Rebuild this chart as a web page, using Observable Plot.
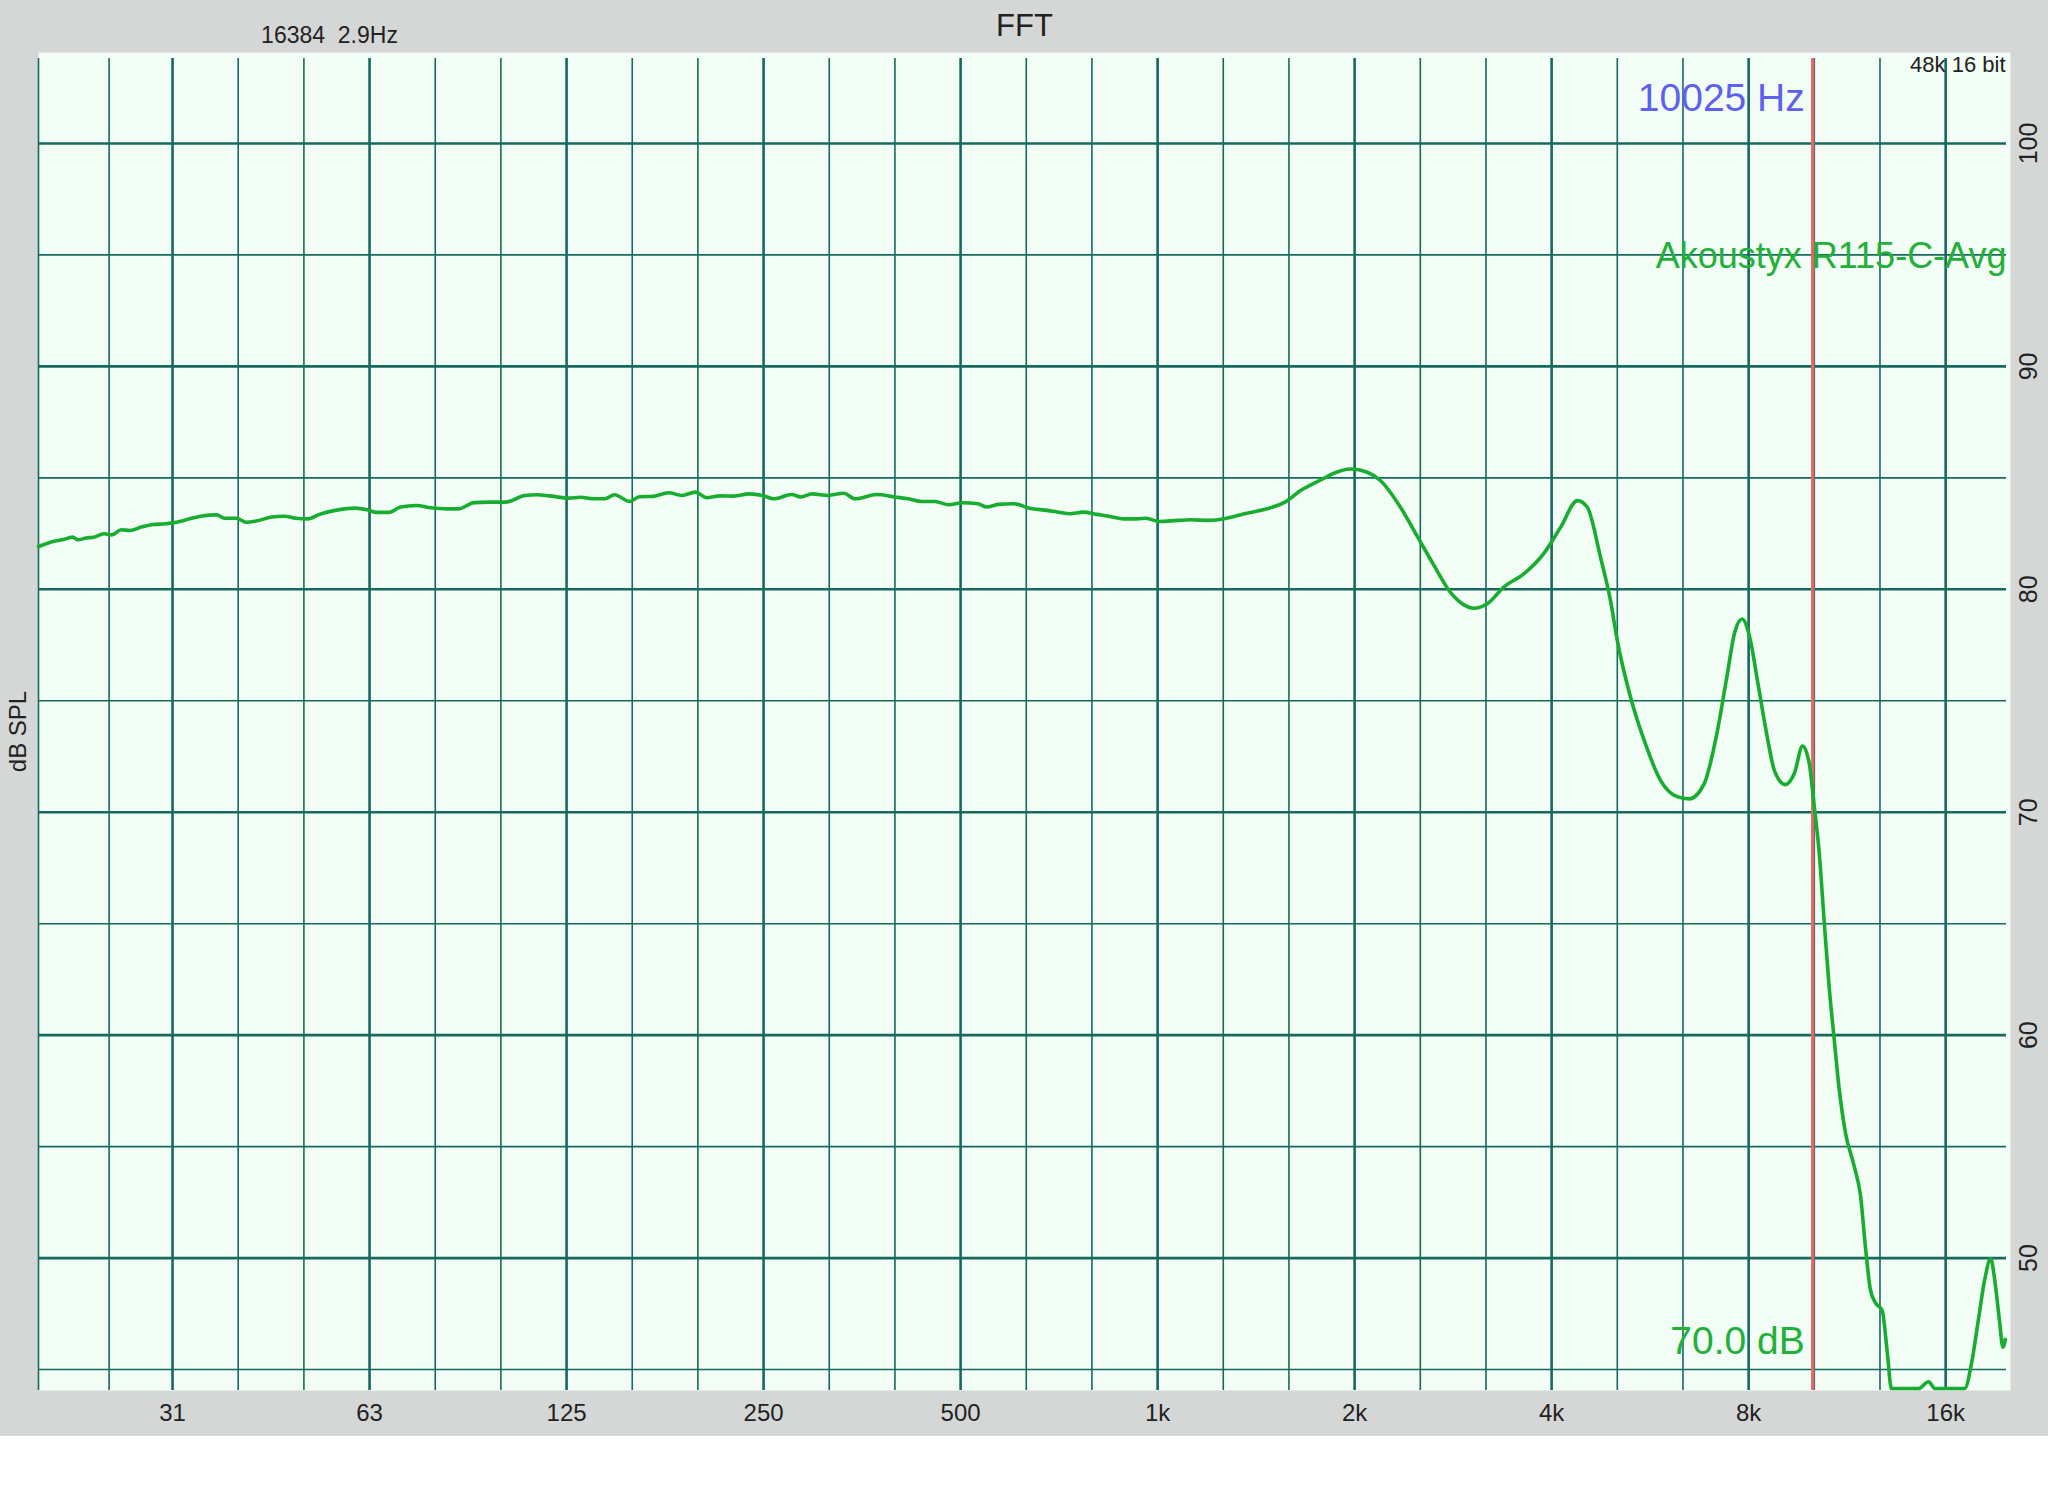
<!DOCTYPE html>
<html>
<head>
<meta charset="utf-8">
<script src="https://cdn.jsdelivr.net/npm/d3@7"></script>
<script src="https://cdn.jsdelivr.net/npm/@observablehq/plot@0.6"></script>
<style>
  html, body { margin: 0; padding: 0; background: #ffffff; }
  #chart svg { display: block; }
</style>
</head>
<body>
<div id="chart"></div>
<script>
// ---- data ----
const freqHz = [
  19.5, 20.6, 21.2, 22.0, 22.4, 23.05, 23.7, 24.55, 25.24, 26.1,
  26.9, 28.0, 29.2, 30.5, 31.7, 33.1, 34.5, 36.5, 37.5, 39.1,
  40.5, 41.9, 44.3, 46.3, 48.2, 50.3, 52.4, 55.4, 59.4, 62.0,
  64.1, 66.9, 69.7, 73.7, 77.5, 81.9, 85.4, 90.3, 95.4, 100.8,
  108, 112.7, 117.6, 126, 131.4, 137, 143, 148, 156, 161.5,
  169.6, 179, 187.7, 196.6, 204.6, 214.5, 225, 237.7, 249, 259,
  276, 285, 296.7, 313.6, 331.5, 344.7, 372.5, 396.8, 416, 436,
  457, 479.5, 502.8, 531.4, 548, 570.5, 602.7, 637, 678, 705.6,
  734, 769.5, 807, 846, 887, 930, 960, 1006, 1072, 1124,
  1197, 1275, 1358, 1469, 1565, 1654, 1793, 1857, 1972, 2091,
  2190, 2350, 2490, 2644, 2800, 2938, 3040, 3190, 3380, 3630,
  3890, 4130, 4380, 4535, 4750, 4920, 5040, 5280, 5540, 5870,
  6220, 6490, 6840, 7140, 7400, 7620, 7820, 8030, 8270, 8510,
  8760, 9100, 9400, 9670, 9900, 10070, 10250, 10430, 10620, 10810,
  10990, 11250, 11580, 11860, 12070, 12280, 12500, 12800, 13030, 13220,
  14540, 15060, 15420, 17110, 17530, 17940, 18360, 18750, 19010, 19340,
  19570, 19740
];
const splDb = [
  81.92, 82.16, 82.22, 82.34, 82.22, 82.30, 82.34, 82.49, 82.44, 82.67,
  82.64, 82.79, 82.91, 82.94, 83.01, 83.15, 83.28, 83.34, 83.19, 83.19,
  83.01, 83.06, 83.24, 83.28, 83.19, 83.16, 83.36, 83.54, 83.64, 83.57,
  83.45, 83.45, 83.69, 83.76, 83.66, 83.61, 83.61, 83.89, 83.91, 83.91,
  84.21, 84.24, 84.19, 84.09, 84.13, 84.06, 84.06, 84.24, 83.94, 84.15,
  84.17, 84.33, 84.21, 84.36, 84.11, 84.19, 84.18, 84.28, 84.21, 84.06,
  84.25, 84.14, 84.28, 84.21, 84.31, 84.06, 84.25, 84.14, 84.06, 83.94,
  83.94, 83.79, 83.88, 83.84, 83.69, 83.81, 83.84, 83.64, 83.54, 83.46,
  83.39, 83.46, 83.36, 83.27, 83.16, 83.16, 83.19, 83.04, 83.09, 83.12,
  83.09, 83.19, 83.39, 83.61, 83.91, 84.43, 84.97, 85.20, 85.40, 85.25,
  84.88, 83.68, 82.41, 81.07, 79.87, 79.30, 79.15, 79.35, 80.10, 80.70,
  81.60, 82.79, 83.98, 83.68, 81.44, 79.50, 77.70, 75.16, 73.22, 71.42,
  70.70, 70.60, 71.27, 73.40, 75.97, 78.08, 78.67, 77.85, 75.74, 73.63,
  71.87, 71.24, 71.76, 72.97, 72.20, 70.35, 68.24, 65.20, 62.15, 59.81,
  57.70, 55.60, 54.19, 52.79, 50.45, 48.57, 47.99, 47.64, 45.76, 44.15,
  44.15, 44.45, 44.15, 44.15, 45.30, 47.17, 49.04, 49.98, 49.04, 47.17,
  46.00, 46.35
];

// axes / grid
const xDomain = [19.5, 20100];
const yDomain = [44.06, 104.08];
const octaveLines = [31.25, 62.5, 125, 250, 500, 1000, 2000, 4000, 8000, 16000];
const xTickLabels = ["31", "63", "125", "250", "500", "1k", "2k", "4k", "8k", "16k"];
const thirdOctaveLines = [25, 39.37, 49.61, 78.75, 99.21, 157.49, 198.43, 314.98, 396.85,
  629.96, 793.70, 1259.92, 1587.40, 2519.84, 3174.80, 5039.68, 6349.60, 10079.37, 12699.21];
const yMajor = [50, 60, 70, 80, 90, 100];
const yMinor = [45, 55, 65, 75, 85, 95];

// annotations
const cursorHz = 10025;
const cursorLevel = "70.0 dB";
const seriesName = "Akoustyx R115-C-Avg";
const chartTitle = "FFT";
const fftInfo = "16384  2.9Hz";
const formatInfo = "48k 16 bit";
const yLabel = "dB SPL";

const data = freqHz.map((f, i) => ({f, db: splDb[i]}));

const grid = "#17695f";
const font = "'Liberation Sans', Arial, Helvetica, sans-serif";

const chart = Plot.plot({
  width: 2048,
  height: 1436,
  marginLeft: 38,
  marginRight: 38,
  marginTop: 52,
  marginBottom: 46,
  style: {background: "#d5d7d6", fontFamily: font, color: "#222", overflow: "visible"},
  x: {type: "log", domain: xDomain, axis: null},
  y: {domain: yDomain, axis: null},
  marks: [
    Plot.frame({fill: "#f2fdf5", stroke: "none"}),
    Plot.ruleX([xDomain[0]], {x: d => d, stroke: grid, strokeWidth: 1.6, insetTop: 6}),
    Plot.ruleX(thirdOctaveLines, {x: d => d, stroke: grid, strokeWidth: 1.6, insetTop: 6}),
    Plot.ruleX(octaveLines, {x: d => d, stroke: grid, strokeWidth: 2.6, insetTop: 6}),
    Plot.ruleY(yMinor, {y: d => d, stroke: grid, strokeWidth: 1.6, insetRight: 4}),
    Plot.ruleY(yMajor, {y: d => d, stroke: grid, strokeWidth: 2.6, insetRight: 4}),
    Plot.ruleX([cursorHz], {x: d => d, stroke: "#e06868", strokeWidth: 3.4, insetTop: 6}),
    Plot.line(data, {x: "f", y: "db", stroke: "#18ad30", strokeWidth: 3.6, curve: "monotone-x", strokeLinejoin: "round"}),
    // cursor readouts
    Plot.text([cursorHz], {x: d => d, text: d => `${d} Hz`, frameAnchor: "top", lineAnchor: "middle",
      dy: 46, dx: -8, textAnchor: "end", fill: "#5f5ff0", fontSize: 39}),
    Plot.text([cursorLevel], {x: () => cursorHz, text: d => d, frameAnchor: "bottom", lineAnchor: "middle",
      dy: -49, dx: -8, textAnchor: "end", fill: "#22b03a", fontSize: 39}),
    Plot.text([seriesName], {text: d => d, frameAnchor: "top-right", lineAnchor: "middle", dy: 204, dx: -4,
      textAnchor: "end", fill: "#22b03a", fontSize: 36}),
    Plot.text([formatInfo], {text: d => d, frameAnchor: "top-right", lineAnchor: "middle", dy: 12, dx: -5,
      textAnchor: "end", fill: "#222", fontSize: 22}),
    // header texts
    Plot.text([chartTitle], {text: d => d, frameAnchor: "top", lineAnchor: "middle", dy: -26,
      fill: "#222", fontSize: 31}),
    Plot.text([fftInfo], {text: d => d, frameAnchor: "top-left", lineAnchor: "middle", dx: 291, dy: -17,
      fill: "#222", fontSize: 23, textAnchor: "middle"}),
    // axes
    Plot.text(octaveLines, {x: d => d, text: (d, i) => xTickLabels[i], frameAnchor: "bottom", lineAnchor: "middle",
      dy: 23, fill: "#222", fontSize: 24}),
    Plot.text(yMajor, {y: d => d, text: d => String(d), frameAnchor: "right", textAnchor: "middle", dx: 18, rotate: -90,
      fill: "#222", fontSize: 25}),
    Plot.text([yLabel], {text: d => d, frameAnchor: "left", textAnchor: "middle", lineAnchor: "middle",
      dx: -20, dy: 10, rotate: -90, fill: "#222", fontSize: 24})
  ]
});

document.getElementById("chart").appendChild(chart);
</script>
</body>
</html>
